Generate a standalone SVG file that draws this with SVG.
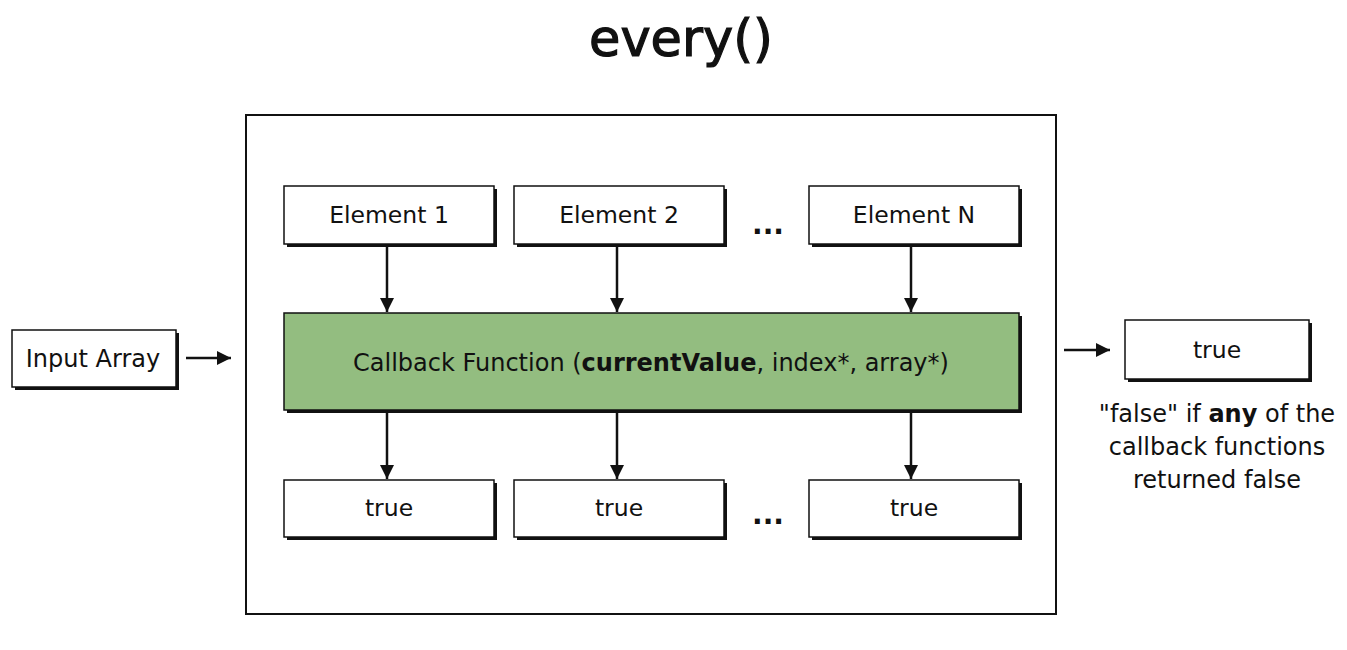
<svg xmlns="http://www.w3.org/2000/svg" width="1347" height="650" viewBox="0 0 1347 650">
<defs>
<style>
text{font-family:"DejaVu Sans","Noto Sans",sans-serif;fill:#111;text-anchor:middle}
.lbl{font-size:23.5px}
.box{fill:#fff;stroke:#111;stroke-width:1.5}
.sh{fill:#111}
.ln{stroke:#111;stroke-width:2.5;fill:none}
</style>
<marker id="ah" markerWidth="14" markerHeight="14" refX="12" refY="6" orient="auto" markerUnits="userSpaceOnUse" viewBox="0 0 12 12">
<path d="M0,0 L12,6 L0,12 Z" fill="#111"/>
</marker>
</defs>
<rect width="1347" height="650" fill="#fff"/>
<text x="681" y="56" style="font-size:51px;stroke:#111;stroke-width:1.2">every()</text>
<g id="frame"><rect x="246" y="115" width="810" height="499" fill="#fff" stroke="#111" stroke-width="2"/></g>

<g id="input-array"><rect class="sh" x="15" y="333" width="164" height="57"/><rect class="box" x="12" y="330" width="164" height="57"/><text class="lbl" x="93" y="367" style="font-size:24px">Input Array</text></g>

<g id="el1"><rect class="sh" x="287" y="189" width="210" height="58"/><rect class="box" x="284" y="186" width="210" height="58"/><text class="lbl" x="389" y="223">Element 1</text></g>
<g id="el2"><rect class="sh" x="517" y="189" width="210" height="58"/><rect class="box" x="514" y="186" width="210" height="58"/><text class="lbl" x="619" y="223">Element 2</text></g>
<g id="elN"><rect class="sh" x="812" y="189" width="210" height="58"/><rect class="box" x="809" y="186" width="210" height="58"/><text class="lbl" x="914" y="223">Element N</text></g>
<g id="dots1"><text x="768" y="234" style="font-size:28px;font-weight:bold">...</text></g>

<g id="callback"><rect class="sh" x="287" y="316" width="735" height="97"/><rect x="284" y="313" width="735" height="97" fill="#93bd80" stroke="#111" stroke-width="1.5"/><text x="651" y="371" style="font-size:24px">Callback Function (<tspan font-weight="bold">currentValue</tspan>, index*, array*)</text></g>

<g id="t1"><rect class="sh" x="287" y="483" width="210" height="57"/><rect class="box" x="284" y="480" width="210" height="57"/><text class="lbl" x="389" y="516">true</text></g>
<g id="t2"><rect class="sh" x="517" y="483" width="210" height="57"/><rect class="box" x="514" y="480" width="210" height="57"/><text class="lbl" x="619" y="516">true</text></g>
<g id="tN"><rect class="sh" x="812" y="483" width="210" height="57"/><rect class="box" x="809" y="480" width="210" height="57"/><text class="lbl" x="914" y="516">true</text></g>
<g id="dots2"><text x="768" y="524" style="font-size:28px;font-weight:bold">...</text></g>

<g id="result"><rect class="sh" x="1128" y="323" width="184" height="59"/><rect class="box" x="1125" y="320" width="184" height="59"/><text class="lbl" x="1217" y="358">true</text></g>
<g id="note"><text x="1217" y="422" style="font-size:24px">"false" if <tspan font-weight="bold">any</tspan> of the</text><text x="1217" y="455" style="font-size:24px">callback functions</text><text x="1217" y="488" style="font-size:24px">returned false</text></g>

<g id="connectors">
<line class="ln" x1="186" y1="358" x2="231" y2="358" marker-end="url(#ah)"/>
<line class="ln" x1="1064" y1="350" x2="1110" y2="350" marker-end="url(#ah)"/>
<line class="ln" x1="387" y1="246" x2="387" y2="312" marker-end="url(#ah)"/>
<line class="ln" x1="617" y1="246" x2="617" y2="312" marker-end="url(#ah)"/>
<line class="ln" x1="911" y1="246" x2="911" y2="312" marker-end="url(#ah)"/>
<line class="ln" x1="387" y1="412" x2="387" y2="479" marker-end="url(#ah)"/>
<line class="ln" x1="617" y1="412" x2="617" y2="479" marker-end="url(#ah)"/>
<line class="ln" x1="911" y1="412" x2="911" y2="479" marker-end="url(#ah)"/>
</g>
</svg>
